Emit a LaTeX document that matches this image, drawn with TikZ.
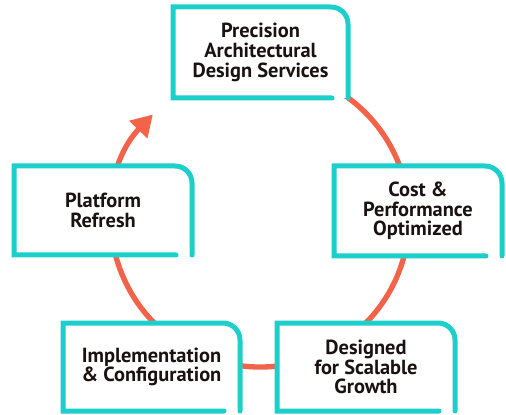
\documentclass[tikz,border=0pt]{standalone}
\usepackage{fontspec}
\setmainfont{PT Sans}
\usetikzlibrary{arrows.meta}
\definecolor{boxteal}{HTML}{1DCFCA}
\definecolor{looporange}{HTML}{F26349}
\definecolor{inkdark}{HTML}{1A1111}
\begin{document}
\begin{tikzpicture}[x=0.75pt, y=0.75pt,
        stage/.style={rectangle, fill=white, inner sep=0pt, outer sep=0pt, align=center,
            text=inkdark, font=\bfseries\fontsize{15.3}{14.8}\selectfont},
        frame/.style={draw=boxteal, line width=3.75pt, line cap=round}]
    \useasboundingbox (0,0) rectangle (506,414);

    % the loop behind the boxes
    \draw[looporange, line width=4pt, -{Triangle[length=15.75pt, width=18pt]}]
        (260,196) ++(120:111.75pt) arc[start angle=120, end angle=-224, radius=111.75pt];

    \node[stage, minimum width=131.25pt, minimum height=68.25pt] (design) at (260.5,361.5) {Precision\\Architectural\\Design Services};
    \node[stage, minimum width=133.5pt, minimum height=66.75pt] (refresh) at (103,203.5) {Platform\\Refresh};
    \node[stage, minimum width=126pt, minimum height=67.5pt] (cost) at (418,203) {Cost \&\\Performance\\Optimized};
    \node[stage, minimum width=132.75pt, minimum height=66pt] (impl) at (151.5,47) {Implementation\\\& Configuration};
    \node[stage, minimum width=133.5pt, minimum height=66pt] (growth) at (366,47) {Designed\\for Scalable\\Growth};

    \foreach \n in {design,refresh,cost,impl,growth}
        \draw[frame] ([xshift=-12pt]\n.south east) -- (\n.south west) -- (\n.north west)
            -- ([xshift=-12.75pt]\n.north east) arc[start angle=90, end angle=0, radius=12.75pt]
            -- (\n.south east);
\end{tikzpicture}
\end{document}
